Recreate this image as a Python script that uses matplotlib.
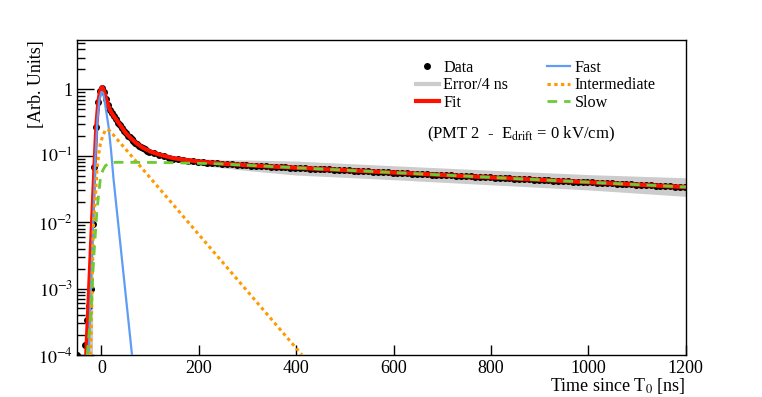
import numpy as np
import matplotlib
matplotlib.use('Agg')
import matplotlib.pyplot as plt
from matplotlib.lines import Line2D
from matplotlib.ticker import FixedLocator, LogLocator, NullFormatter

plt.rcParams['font.family'] = ['Liberation Serif', 'DejaVu Serif']
plt.rcParams['mathtext.fontset'] = 'stix'

# Data points (4 ns bins around the peak, every 10 ns on the tail)
t_fine = np.arange(-50, 99, 4)
y_fine = [1.0e-4, 5e-5, 5e-5, 6e-5, 1.4e-4, 3.4e-4, 5.5e-4, 1.0e-3, 9.5e-3, 0.067,
          0.27, 0.64, 0.95, 1.05, 0.90, 0.72, 0.58, 0.49, 0.435, 0.395,
          0.355, 0.315, 0.285, 0.258, 0.236, 0.217, 0.201, 0.188, 0.176, 0.165,
          0.156, 0.148, 0.141, 0.135, 0.129, 0.124, 0.119, 0.115]
t_tail = np.arange(108, 1199, 10)
y_tail = [0.108, 0.102, 0.0976, 0.0938, 0.0906, 0.0880, 0.0857, 0.0838, 0.0822, 0.0807,
          0.0794, 0.0783, 0.0772, 0.0763, 0.0754, 0.0746, 0.0738, 0.0731, 0.0724, 0.0717,
          0.0711, 0.0704, 0.0698, 0.0692, 0.0686, 0.0680, 0.0673, 0.0668, 0.0662, 0.0657,
          0.0651, 0.0646, 0.0641, 0.0635, 0.0630, 0.0625, 0.0620, 0.0614, 0.0609, 0.0604,
          0.0599, 0.0594, 0.0589, 0.0584, 0.0580, 0.0575, 0.0570, 0.0565, 0.0561, 0.0556,
          0.0551, 0.0547, 0.0542, 0.0538, 0.0533, 0.0529, 0.0524, 0.0520, 0.0516, 0.0511,
          0.0507, 0.0503, 0.0499, 0.0495, 0.0491, 0.0487, 0.0482, 0.0478, 0.0475, 0.0471,
          0.0467, 0.0463, 0.0459, 0.0455, 0.0451, 0.0448, 0.0444, 0.0440, 0.0437, 0.0433,
          0.0429, 0.0426, 0.0422, 0.0419, 0.0415, 0.0412, 0.0408, 0.0405, 0.0402, 0.0398,
          0.0395, 0.0392, 0.0389, 0.0385, 0.0382, 0.0379, 0.0376, 0.0373, 0.0370, 0.0367,
          0.0364, 0.0361, 0.0358, 0.0355, 0.0352, 0.0349, 0.0346, 0.0343, 0.0340, 0.0337]

# error band (Error/4 ns)
band_t = [-31, -19, -17, -14, -10, -6, -2, 2, 6, 10, 20, 40, 70, 100, 150, 200,
          250, 300, 400, 600, 800, 1000, 1200]
band_lo = [1e-5, 1e-5, 4e-3, 0.058, 0.25, 0.60, 0.92, 1.02, 0.87, 0.69, 0.455, 0.258,
           0.147, 0.105, 0.082, 0.0717, 0.0655, 0.0596, 0.0511, 0.0435, 0.0364, 0.0305, 0.0244]
band_hi = [2e-4, 4e-3, 0.014, 0.077, 0.29, 0.68, 0.98, 1.08, 0.93, 0.75, 0.48, 0.283,
           0.165, 0.121, 0.099, 0.0903, 0.0863, 0.0861, 0.083, 0.0706, 0.0604, 0.0519, 0.0465]

# fit and its components
fit_t = [-31, -13, -10, -6, -3, 0, 2, 4, 7, 10, 14, 18, 22, 26, 32, 40, 50, 60, 70,
         85, 100, 120, 150, 200, 250, 300, 350, 1200]
fit_y = [1e-4, 0.1, 0.3, 0.65, 0.9, 1.04, 1.08, 1.0, 0.86, 0.71, 0.575, 0.485, 0.43,
         0.39, 0.34, 0.28, 0.22, 0.185, 0.158, 0.132, 0.116, 0.1035, 0.091, 0.0815,
         0.0757, 0.0718, 0.0686, 0.0337]
fast_t = [-26, -12, -8, -4, 0, 2, 4, 7, 11, 15, 20, 25, 63]
fast_y = [1e-4, 0.1, 0.35, 0.7, 0.9, 0.91, 0.85, 0.65, 0.42, 0.27, 0.12, 0.045, 1e-4]
inter_t = [-22, -16, -12, -9, -5, -2, 3, 8, 12, 18, 412]
inter_y = [1e-4, 0.0095, 0.024, 0.06, 0.11, 0.15, 0.2, 0.24, 0.25, 0.235, 1e-4]
slow_t = [-29, -21, -16, -9, -2, 3, 8, 15, 30, 120, 240, 350, 1200]
slow_y = [1e-4, 4.6e-4, 2.6e-3, 0.015, 0.045, 0.06, 0.07, 0.077, 0.0795, 0.079,
          0.0755, 0.0686, 0.0337]

c_err = '#cccccc'
c_fit = '#ff1100'
c_fast = '#5f9cf5'
c_inter = '#ff9a00'
c_slow = '#6ccb35'

fig = plt.figure(figsize=(7.62, 3.97), dpi=100)
ax = fig.add_axes([0.101, 0.106, 0.799, 0.793])

ax.fill_between(band_t, band_lo, band_hi, color=c_err, lw=0, zorder=1)
ax.plot(np.concatenate([t_fine, t_tail]), y_fine + y_tail, 'o', color='black',
        ms=5, mew=0, zorder=2)
ax.plot(fit_t, fit_y, color=c_fit, lw=3, zorder=3)
ax.plot(fast_t, fast_y, color=c_fast, lw=1.6, zorder=4)
ax.plot(inter_t, inter_y, color=c_inter, lw=2.2, ls=(0, (1.1, 1.1)), zorder=5)
ax.plot(slow_t, slow_y, color=c_slow, lw=2, ls=(0, (3.5, 2.5)), zorder=6)

ax.set_yscale('log')
ax.set_xlim(-50, 1200)
ax.set_ylim(1e-4, 5.5)
ax.set_xticks([0, 200, 400, 600, 800, 1000, 1200])
ax.yaxis.set_major_locator(FixedLocator([1e-4, 1e-3, 1e-2, 1e-1, 1]))
ax.set_yticklabels(['$10^{-4}$', '$10^{-3}$', '$10^{-2}$', '$10^{-1}$', '1'])
ax.yaxis.set_minor_locator(LogLocator(base=10, subs=np.arange(2, 10)))
ax.yaxis.set_minor_formatter(NullFormatter())
ax.tick_params(axis='x', which='major', direction='in', length=7, width=1,
               labelsize=13, pad=4, top=False)
ax.tick_params(axis='y', which='major', direction='in', length=12, width=1,
               labelsize=13, pad=3, right=False)
ax.tick_params(axis='y', which='minor', direction='in', length=6, width=1, right=False)
for s in ax.spines.values():
    s.set_linewidth(1)

ax.set_xlabel('Time since T$_0$ [ns]', fontsize=13, loc='right')
ax.xaxis.set_label_coords(1.0, -0.068)
ax.set_ylabel('[Arb. Units]', fontsize=13, loc='top')
ax.yaxis.set_label_coords(-0.0525, 1.0)

handles = [Line2D([], [], marker='o', color='black', ls='none', ms=5, mew=0),
           Line2D([], [], color=c_err, lw=3),
           Line2D([], [], color=c_fit, lw=3),
           Line2D([], [], color=c_fast, lw=1.6),
           Line2D([], [], color=c_inter, lw=2.2, ls=(0, (1.1, 1.1))),
           Line2D([], [], color=c_slow, lw=2, ls=(0, (3.5, 2.5)))]
labels = ['Data', 'Error/4 ns', 'Fit', 'Fast', 'Intermediate', 'Slow']
ax.legend(handles, labels, ncol=2, loc='upper left', bbox_to_anchor=(0.557, 0.937),
          frameon=False, fontsize=11.6, handlelength=1.4, handletextpad=0.3,
          columnspacing=2.4, labelspacing=0.08, borderaxespad=0, borderpad=0)

ax.text(0.575, 0.702, '(PMT 2  -  E$_{\\mathrm{drift}}$ = 0 kV/cm)', transform=ax.transAxes,
        fontsize=12, va='center', ha='left')

fig.savefig('out.png', dpi=100)
